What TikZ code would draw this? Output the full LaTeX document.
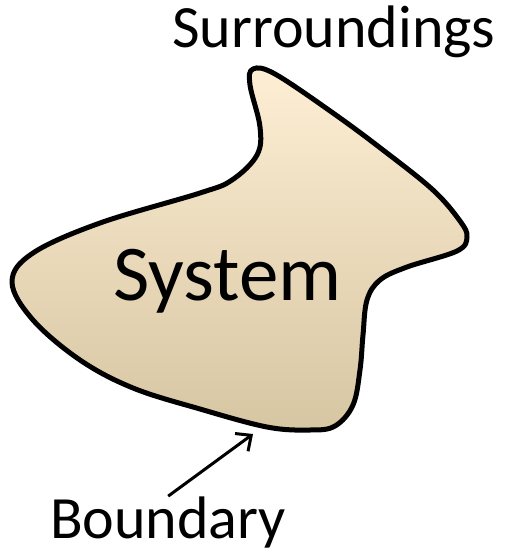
\documentclass[tikz,border=0pt]{standalone}
\usepackage{fontspec}
\setmainfont{Carlito}
\usepackage{tikz}
\usetikzlibrary{arrows.meta}
\definecolor{blobtop}{RGB}{254,238,212}
\definecolor{blobmid}{RGB}{243,235,214}
\definecolor{blobbot}{RGB}{214,198,162}

\begin{document}
\begin{tikzpicture}[
  x=1pt,y=-1pt,
  blob/.style={line width=5pt,line join=round,top color=blobtop,middle color=blobmid,bottom color=blobbot,draw=black},
  lbl/.style={inner sep=0,anchor=base west,font=\fontsize{60}{70}\selectfont},
  big/.style={lbl,font=\fontsize{79}{90}\selectfont},
  pointer/.style={draw=black,line width=3pt,-{Straight Barb[length=12pt,width=22pt]}}
]
\useasboundingbox (0,0) rectangle (507,552);
\draw[blob] plot[smooth cycle,tension=0.6] coordinates {
  (253,69) (275,74) (333,113) (383,150) (433,190) (460,221) (467,237) (457,251)
  (407,267) (380,280) (367,300) (363,335) (360,370) (353,405) (335,426) (310,430)
  (267,427) (200,409) (133,388) (80,360) (33,320) (12,282) (33,253) (100,223)
  (200,193) (232,180) (257,155) (260,127) (250,85)};
\node[big] (system) at (113,300) {System};
\node[lbl] (surr) at (172,47) {Surroundings};
\node[lbl] (boundary) at (50,538) {Boundary};
\coordinate (edge) at (253,434);
\draw[pointer] (boundary.north) -- (edge);
\end{tikzpicture}
\end{document}
